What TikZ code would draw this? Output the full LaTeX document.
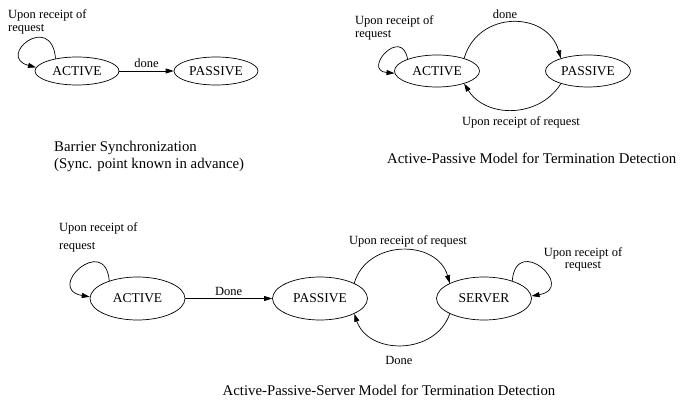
\documentclass[tikz,border=0pt]{standalone}
\usepackage{fontspec}
\setmainfont{Liberation Serif}
\usetikzlibrary{shapes.geometric,arrows.meta}
\begin{document}
\begin{tikzpicture}[x=1pt,y=-1pt,
  st/.style={draw,ellipse,inner sep=0pt,line width=0.7pt,font=\fontsize{13.5}{15}\selectfont},
  sm/.style={st,minimum width=84pt,minimum height=28pt},
  md/.style={st,minimum width=85pt,minimum height=32pt},
  lg/.style={st,minimum width=95pt,minimum height=43pt},
  lbl/.style={inner sep=0pt,font=\fontsize{12.5}{14}\selectfont},
  captxt/.style={inner sep=0pt,font=\fontsize{14.8}{16}\selectfont},
  arr/.style={line width=0.7pt,-{Triangle[length=8pt,width=5pt]}}]
\useasboundingbox (0,0) rectangle (683,401);
% Diagram 1
\node[sm] (a1) at (77,71) {ACTIVE};
\node[sm] (p1) at (216,71) {PASSIVE};
\draw[arr] (a1) -- (p1) node[midway,above=3pt,lbl] (d1) {done};
\draw[arr] (a1.150) .. controls +(95:48pt) and +(165:42pt) .. (a1.175);
\node[lbl,anchor=west] (u1a) at (8,15) {Upon receipt of};
\node[lbl,anchor=west] (u1b) at (8,29) {request};
\node[captxt,anchor=west] (c1a) at (54,148) {Barrier Synchronization};
\node[captxt,anchor=west] (c1b) at (54,165) {(Sync. point known in advance)};
% Diagram 2
\node[md] (a2) at (437,71) {ACTIVE};
\node[md] (p2) at (588,71) {PASSIVE};
\draw[arr] (a2.25) .. controls +(74:50pt) and +(106:50pt) .. (p2.155);
\draw[arr] (p2.205) .. controls +(238:41pt) and +(-58:41pt) .. (a2.335);
\draw[arr] (a2.158) .. controls +(100:34pt) and +(175:33pt) .. (a2.183);
\node[lbl] (d2) at (505,14) {done};
\node[lbl] (u2) at (521,122) {Upon receipt of request};
\node[lbl,anchor=west] (u2a) at (355,21) {Upon receipt of};
\node[lbl,anchor=west] (u2b) at (355,35) {request};
\node[captxt,anchor=west] (c2) at (387,158) {Active-Passive Model for Termination Detection};
% Diagram 3
\node[lg] (a3) at (137.5,298.5) {ACTIVE};
\node[lg] (p3) at (320,298.5) {PASSIVE};
\node[lg] (s3) at (484,298.5) {SERVER};
\draw[arr] (a3) -- (p3) node[midway,above=3pt,lbl] (d3) {Done};
\draw[arr] (p3.24) .. controls +(74:46pt) and +(106:46pt) .. (s3.156);
\draw[arr] (s3.204) .. controls +(251:44pt) and +(-71:44pt) .. (p3.336);
\draw[arr] (a3.148) .. controls +(95:48pt) and +(170:46pt) .. (a3.178);
\draw[arr] (s3.32) .. controls +(85:48pt) and +(10:46pt) .. (s3.3);
\node[lbl,anchor=west] (u3a) at (59,228) {Upon receipt of};
\node[lbl,anchor=west] (u3b) at (59,247) {request};
\node[lbl] (u3) at (408,241) {Upon receipt of request};
\node[lbl] (d4) at (399,360) {Done};
\node[lbl,align=center] (u3s) at (583,259.5) {Upon receipt of\\[-1.5pt]request};
\node[captxt] (c3) at (389,390) {Active-Passive-Server Model for Termination Detection};
\end{tikzpicture}
\end{document}
